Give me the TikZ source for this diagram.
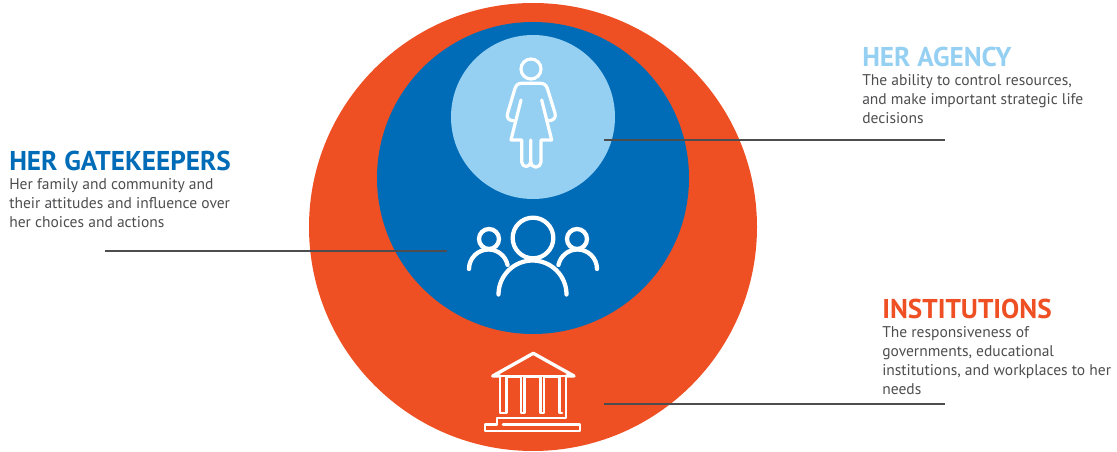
\documentclass[tikz,border=0pt]{standalone}
\usepackage{fontspec}
\setmainfont{PT Sans}
\usetikzlibrary{positioning}
\definecolor{herorange}{HTML}{EE5023}
\definecolor{herblue}{HTML}{006BB6}
\definecolor{herlight}{HTML}{95D0F3}
\definecolor{herline}{HTML}{4D4D4F}
\begin{document}
\begin{tikzpicture}[x=0.75pt,y=-0.75pt,
    disc/.style={circle, inner sep=0pt, outer sep=0pt},
    ring/.style={disc, draw=white, line width=3.2pt},
    title/.style={font=\fontsize{20.4}{21}\selectfont\bfseries, inner sep=0pt, anchor=north west},
    body/.style={font=\fontsize{11.65}{14.4}\selectfont, text=herline, inner sep=0pt, anchor=north west, align=left},
    leader/.style={draw=herline, line width=1.1pt},
    icon/.style={draw=white, line width=3.2pt, line cap=round, line join=round},
    thinicon/.style={icon, line width=2.2pt}]
    \useasboundingbox (0,0) rectangle (1117,452);
    \node[disc, fill=herorange, minimum size=336pt] (inst) at (533,227) {};
    \node[disc, fill=herblue, minimum size=234pt] (gate) at (533,178) {};
    \node[disc, fill=herlight, minimum size=123pt] (agency) at (533,117) {};
    % woman
    \node[ring, line width=2.4pt, minimum size=15pt] (head) at (531,69) {};
    \draw[icon, line width=2.4pt] (521,100) -- (511,140) -- (521.7,140) -- (521.7,162) arc[start angle=180, end angle=0, radius=4.5] -- (530.7,140);
    \draw[icon, line width=2.4pt] (530.7,162) arc[start angle=180, end angle=0, radius=5.15] -- (541,140) -- (551.7,140) -- (541.7,100);
    \draw[icon, line width=2.4pt] (514,120.7) .. controls (509,121) and (506,118) .. (507.7,113) -- (515,88.3) .. controls (516.5,85) and (518,83.3) .. (521.7,83.3) -- (540,83.3) .. controls (544,83.3) and (546,85) .. (547.3,88.3) -- (555,113) .. controls (556.5,118) and (553,121) .. (548.3,120.7);
    % people
    \node[ring, minimum size=30.5pt] (headb) at (533,238) {};
    \node[ring, minimum size=15pt] (heada) at (489,239) {};
    \node[ring, minimum size=15pt] (headc) at (577,239) {};
    \draw[icon] (498.5,294.5) arc[start angle=180, end angle=360, radius=34];
    \draw[icon] (469,269) arc[start angle=180, end angle=348, radius=19.5];
    \draw[icon] (597,269) arc[start angle=0, end angle=-168, radius=19.5];
    % building
    \draw[icon, line width=2.5pt] (500,376) -- (492.7,376) -- (533.3,353.3) -- (574,376) -- (566,376);
    \draw[thinicon] (500,376) -- (500,413) -- (506.7,413) -- (506.7,377) -- (521,377) -- (521,413) -- (524.5,413) -- (524.5,377) -- (540.5,377) -- (540.5,413) -- (544,413) -- (544,377) -- (559.5,377) -- (559.5,413) -- (562,413);
    \draw[thinicon] (500,376) -- (566,376) -- (566,418) -- (497,418) -- (497,424.5) -- (485,424.5) -- (485,431) -- (580,431) -- (580,424.5) -- (503,424.5);
    % labels
    \node[title, text=herlight] (agencyt) at (862,47) {HER AGENCY};
    \node[body, below=5pt of agencyt.south west, anchor=north west] (agencyb) {The ability to control resources,\\and make important strategic life\\decisions};
    \node[title, text=herblue] (gatet) at (9,151) {HER GATEKEEPERS};
    \node[body, below=5pt of gatet.south west, anchor=north west] (gateb) {Her family and community and\\their attitudes and influence over\\her choices and actions};
    \node[title, text=herorange] (instt) at (882,299) {INSTITUTIONS};
    \node[body, below=5pt of instt.south west, anchor=north west] (instb) {The responsiveness of\\governments, educational\\institutions, and workplaces to her\\needs};
    % leaders
    \coordinate (a1) at (604,140);
    \coordinate (a2) at (945,140);
    \coordinate (g1) at (105,251);
    \coordinate (g2) at (447,251);
    \coordinate (i1) at (604,404);
    \coordinate (i2) at (945,404);
    \draw[leader] (a1) -- (a2);
    \draw[leader] (g1) -- (g2);
    \draw[leader] (i1) -- (i2);
\end{tikzpicture}
\end{document}
